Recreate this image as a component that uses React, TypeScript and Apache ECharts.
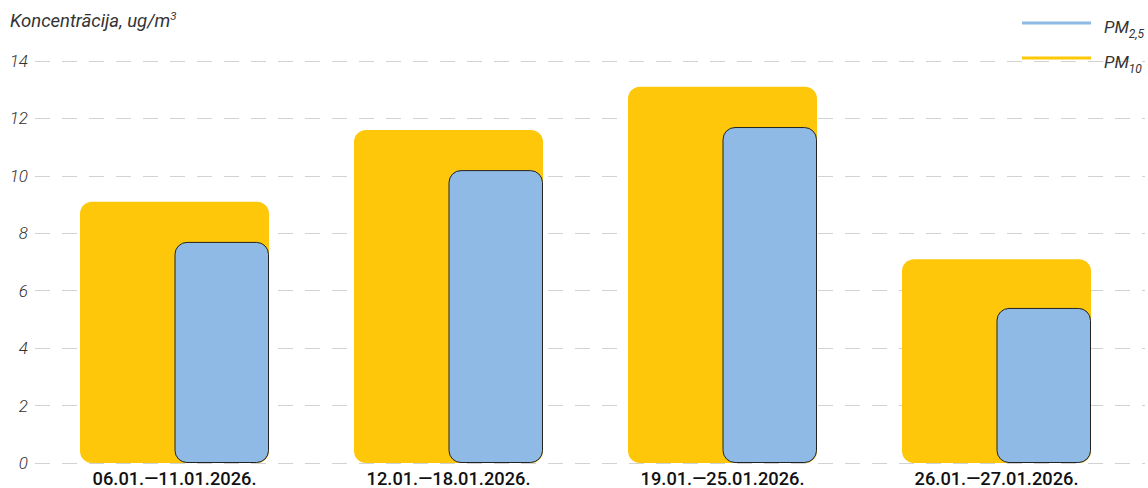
import React, { useEffect, useRef } from "react";
import * as echarts from "echarts";

const categories = [
  "06.01.—11.01.2026.",
  "12.01.—18.01.2026.",
  "19.01.—25.01.2026.",
  "26.01.—27.01.2026.",
];
const pm10Values = [9.1, 11.6, 13.1, 7.1];
const pm25Values = [7.7, 10.2, 11.7, 5.4];
const yMin = 0;
const yMax = 14;
const yInterval = 2;

const YELLOW = "#FEC70A";
const BLUE = "#8EBAE5";
const FONT = "Roboto, 'Noto Sans', sans-serif";

export default function App() {
  const ref = useRef<HTMLDivElement>(null);

  useEffect(() => {
    document.body.style.margin = "0";
    if (!ref.current) return;
    const chart = echarts.init(ref.current, undefined, { renderer: "svg" });
    chart.setOption({
      animation: false,
      backgroundColor: "#ffffff",
      textStyle: { fontFamily: FONT },
      title: {
        text: "Koncentrācija, ug/m{sup|3}",
        left: 5,
        top: 5,
        textStyle: {
          fontFamily: FONT,
          fontSize: 18.5,
          fontStyle: "italic",
          fontWeight: "normal",
          color: "#333",
          rich: {
            sup: {
              fontFamily: FONT,
              fontSize: 11.5,
              fontStyle: "italic",
              color: "#333",
              padding: [0, 0, 9, 0],
            },
          },
        },
      },
      legend: {
        orient: "vertical",
        left: 1022,
        top: 18.5,
        padding: 0,
        itemWidth: 69,
        itemHeight: 3,
        itemGap: 14,
        icon: "rect",
        data: ["PM2,5", "PM10"],
        itemStyle: { borderWidth: 0 },
        formatter: (name: string) =>
          name === "PM2,5" ? "PM{sub|2,5}" : "PM{sub|10}",
        textStyle: {
          fontFamily: FONT,
          fontSize: 17,
          fontStyle: "italic",
          color: "#333",
          padding: [8, 0, 0, 8],
          rich: {
            sub: {
              fontFamily: FONT,
              fontSize: 12,
              fontStyle: "italic",
              color: "#333",
              padding: [13, 0, 0, 0],
            },
          },
        },
      },
      grid: [
        { left: 35, right: 3, top: 61, bottom: 25 },
        { left: 37.5, right: 14.5, top: 61, bottom: 25 },
      ],
      xAxis: [
        { type: "value", gridIndex: 0, show: false, min: 0, max: 1 },
        {
          type: "category",
          gridIndex: 1,
          data: categories,
          axisLine: { show: false },
          axisTick: { show: false },
          axisLabel: {
            margin: 6,
            fontFamily: FONT,
            fontSize: 18.25,
            fontWeight: 500,
            color: "#111",
          },
        },
      ],
      yAxis: [
        {
          type: "value",
          gridIndex: 0,
          min: yMin,
          max: yMax,
          interval: yInterval,
          axisLine: { show: false },
          axisTick: { show: false },
          axisLabel: {
            margin: 7,
            fontFamily: FONT,
            fontSize: 17,
            fontStyle: "italic",
            fontWeight: 300,
            color: "#333",
          },
          splitLine: {
            lineStyle: { color: "#d2d2d2", width: 1, type: [15, 12] },
          },
        },
        {
          type: "value",
          gridIndex: 1,
          min: yMin,
          max: yMax,
          interval: yInterval,
          show: false,
          splitLine: { show: false },
        },
      ],
      series: [
        {
          name: "PM10",
          type: "bar",
          xAxisIndex: 1,
          yAxisIndex: 1,
          data: pm10Values,
          barWidth: 189,
          barGap: "-50%",
          itemStyle: { color: YELLOW, borderRadius: 12 },
        },
        {
          name: "PM2,5",
          type: "bar",
          xAxisIndex: 1,
          yAxisIndex: 1,
          data: pm25Values,
          barWidth: 94.5,
          barGap: "-50%",
          itemStyle: {
            color: BLUE,
            borderRadius: 12,
            borderColor: "#222",
            borderWidth: 1,
          },
        },
      ],
    });
    return () => chart.dispose();
  }, []);

  return <div ref={ref} style={{ width: 1148, height: 488 }} />;
}
